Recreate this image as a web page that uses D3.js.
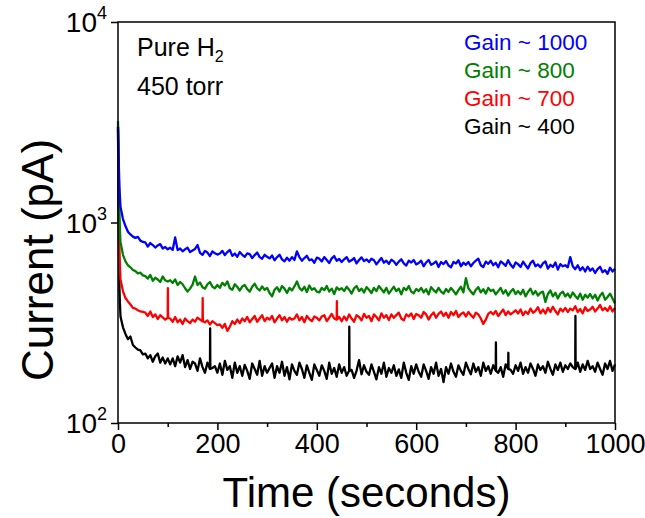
<!DOCTYPE html>
<html>
<head>
<meta charset="utf-8">
<script src="https://cdn.jsdelivr.net/npm/d3@7"></script>
<style>
  html, body { margin: 0; padding: 0; background: #fff; }
  svg { display: block; font-family: "Liberation Sans", Arial, sans-serif; }
</style>
</head>
<body>
<svg id="chart" width="645" height="518"></svg>
<script>
// ---- data ----
const earlyTimes = [0, 1, 2, 3, 4];
const times = earlyTimes.concat(d3.range(5, 1001, 5));

const gain1000 = [3000, 2300, 1800, 1500, 1320,
  1200,1040,960,900,872,850,838,848,812,800,
  795,758,790,772,750,768,780,742,755,735,
  748,730,842,728,742,718,735,748,712,725,
  738,772,705,690,722,708,680,718,702,692,
  700,722,688,712,730,682,700,675,712,690,
  675,702,695,665,688,708,672,660,690,675,
  662,685,648,672,690,655,640,668,645,672,
  650,718,672,645,665,682,648,655,630,668,
  660,640,672,650,628,662,680,645,658,635,
  655,672,638,648,665,625,650,670,642,655,
  635,660,648,618,642,665,630,645,622,652,
  640,615,638,655,625,610,645,632,650,618,
  628,645,605,632,650,615,625,640,600,635,
  620,642,610,598,635,625,648,605,630,615,
  635,605,628,645,660,612,600,638,622,645,
  612,630,598,640,625,608,648,615,595,632,
  620,600,638,612,590,628,645,605,618,598,
  625,640,588,615,600,632,582,620,605,612,
  598,672,605,585,612,578,598,570,602,575,
  590,560,585,602,565,578,555,595,570,588];

const gain800 = [3200, 2200, 1500, 1100, 900,
  800,690,640,612,598,580,572,558,562,545,
  540,525,548,512,530,520,505,538,515,508,
  515,500,520,488,505,492,470,452,468,490,
  538,488,502,475,468,492,505,478,470,488,
  472,500,485,508,470,462,492,478,458,480,
  488,465,452,478,495,470,458,480,462,472,
  445,428,462,475,452,482,468,445,472,458,
  480,508,472,458,478,450,485,462,470,452,
  448,472,460,482,452,468,440,475,462,470,
  455,478,462,442,470,482,455,468,448,476,
  462,445,472,455,482,465,448,472,442,460,
  478,455,468,438,472,460,482,452,444,466,
  455,472,448,465,438,476,460,448,472,452,
  442,466,450,472,455,438,460,478,448,528,
  470,452,438,462,476,448,465,442,472,455,
  462,438,455,472,442,460,432,452,466,440,
  455,438,462,428,450,468,438,455,432,446,
  452,402,440,458,428,446,418,442,452,428,
  442,422,448,430,416,442,412,436,422,440,
  418,436,408,432,446,412,425,442,418,395];

const gain700 = [2900, 1700, 1000, 720, 590,
  520,455,420,404,390,375,372,365,360,358,
  355,342,360,338,348,330,345,336,328,335,
  332,320,338,318,328,312,332,322,315,328,
  320,335,328,322,318,325,310,322,315,308,
  310,298,312,288,302,322,312,328,315,332,
  322,338,318,330,342,320,332,345,322,335,
  328,342,318,332,345,325,338,320,335,328,
  332,348,325,338,318,342,330,322,340,335,
  325,340,345,322,335,350,332,328,338,322,
  340,325,348,332,320,345,338,325,350,335,
  342,322,348,338,325,352,335,345,326,348,
  335,345,355,332,325,348,340,352,330,350,
  345,335,358,348,328,345,356,335,350,360,
  342,355,335,358,345,362,338,350,356,340,
  358,345,335,355,348,332,312,328,350,358,
  348,362,342,355,368,345,360,348,356,365,
  352,368,345,360,350,372,355,362,378,352,
  368,352,375,358,380,362,348,372,360,375,
  358,372,365,382,358,370,352,378,362,368,
  380,360,372,388,365,375,362,382,360,375];

const gain400 = [3000, 1200, 650, 460, 390,
  340,300,278,262,270,245,238,232,230,220,
  222,210,218,202,215,222,200,212,198,210,
  196,210,192,215,200,218,190,206,186,202,
  198,182,210,190,178,200,186,188,192,178,
  198,174,204,184,192,168,200,178,192,172,
  195,182,166,198,186,174,204,172,192,178,
  188,198,168,192,178,202,172,190,165,196,
  182,174,200,186,168,194,178,164,196,184,
  172,194,182,166,200,176,188,170,196,178,
  190,172,182,184,168,182,206,175,194,180,
  174,196,180,165,190,176,200,170,188,178,
  194,172,185,168,200,178,164,192,176,196,
  180,170,196,182,166,190,176,200,172,186,
  160,190,176,198,180,170,194,182,174,200,
  186,175,198,180,190,172,200,182,192,176,
  194,182,178,190,170,196,186,184,176,194,
  182,200,176,190,178,198,186,172,196,184,
  192,178,202,186,174,196,184,200,180,194,
  186,198,190,186,200,180,196,184,204,186,
  192,180,200,186,174,198,186,204,182,196];

// sharp single-sample spikes: [time, peak value]
const spikes1000 = [];
const spikes800 = [];
const spikes700 = [[100, 470], [170, 420], [440, 405]];
const spikes400 = [[185, 296], [465, 302], [760, 252], [785, 224], [920, 342]];

const seriesNames = ["Gain ~ 1000", "Gain ~ 800", "Gain ~ 700", "Gain ~ 400"];
const seriesColors = ["#0000ff", "#008000", "#ff0000", "#000000"];
const seriesValues = [gain1000, gain800, gain700, gain400];
const seriesSpikes = [spikes1000, spikes800, spikes700, spikes400];

const xTicks = [0, 200, 400, 600, 800, 1000];
const xMinorTicks = [100, 300, 500, 700, 900];
const yTicks = [100, 1000, 10000];
const yTickExp = ["2", "3", "4"];
const noteLines = ["Pure H", "450 torr"];

// ---- layout ----
const svg = d3.select("#chart");
const L = 118, R = 615, T = 22, B = 423;

const x = d3.scaleLinear().domain([0, 1000]).range([L, R]);
const y = d3.scaleLog().domain([100, 10000]).range([B, T]);

// lines
const line = d3.line().x(d => x(d[0])).y(d => y(d[1]));
const plot = svg.append("g");
[3, 2, 1, 0].forEach(i => {
  const spikeMap = new Map(seriesSpikes[i]);
  const pts = [];
  times.forEach((t, k) => {
    const v = seriesValues[i][k];
    pts.push([t, v]);
    if (spikeMap.has(t)) {
      pts.push([t + 0.4, spikeMap.get(t)]);
      pts.push([t + 0.8, v]);
    }
  });
  plot.append("path")
    .attr("d", line(pts))
    .attr("fill", "none")
    .attr("stroke", seriesColors[i])
    .attr("stroke-width", 2.3)
    .attr("stroke-linejoin", "round");
});

// frame
svg.append("rect").attr("x", L).attr("y", T).attr("width", R - L).attr("height", B - T)
  .attr("fill", "none").attr("stroke", "#000").attr("stroke-width", 1.5);

// x axis
const xAxis = d3.axisBottom(x).tickValues(xTicks).tickSize(7).tickSizeOuter(0).tickPadding(4)
  .tickFormat(d3.format("d"));
const gx = svg.append("g").attr("transform", `translate(0,${B})`).call(xAxis);
gx.select(".domain").remove();
gx.selectAll(".tick line").attr("stroke-width", 1.5);
gx.selectAll(".tick text").attr("font-size", 27).attr("font-family", "Liberation Sans, Arial, sans-serif").attr("fill", "#000");
const gxm = svg.append("g").attr("transform", `translate(0,${B})`)
  .call(d3.axisBottom(x).tickValues(xMinorTicks).tickSize(4).tickSizeOuter(0).tickFormat(""));
gxm.select(".domain").remove();
gxm.selectAll(".tick line").attr("stroke-width", 1.5);

// y axis
const yAxis = d3.axisLeft(y).tickValues(yTicks).tickSize(7).tickSizeOuter(0).tickFormat("");
const gy = svg.append("g").attr("transform", `translate(${L},0)`).call(yAxis);
gy.select(".domain").remove();
gy.selectAll(".tick line").attr("stroke-width", 1.5);
yTicks.forEach((v, i) => {
  const t = svg.append("text")
    .attr("x", L - 11).attr("y", y(v) + 10)
    .attr("text-anchor", "end")
    .attr("font-size", 28).attr("fill", "#000");
  t.append("tspan").text("10");
  t.append("tspan").attr("dy", -13).attr("font-size", 18).text(yTickExp[i]);
});

// axis titles
svg.append("text").attr("x", (L + R) / 2).attr("y", 507)
  .attr("text-anchor", "middle").attr("font-size", 42).attr("fill", "#000")
  .text("Time (seconds)");
svg.append("text")
  .attr("transform", `translate(53,260) rotate(-90)`)
  .attr("text-anchor", "middle").attr("font-size", 44).attr("fill", "#000")
  .text("Current (pA)");

// annotation
const n1 = svg.append("text").attr("x", 137).attr("y", 56).attr("font-size", 25).attr("fill", "#000");
n1.append("tspan").text(noteLines[0]);
n1.append("tspan").attr("dy", 6).attr("font-size", 16).text("2");
svg.append("text").attr("x", 137).attr("y", 95).attr("font-size", 25).attr("fill", "#000").text(noteLines[1]);

// legend
seriesNames.forEach((name, i) => {
  svg.append("text").attr("x", 464).attr("y", 50 + i * 28)
    .attr("font-size", 22.5).attr("fill", seriesColors[i]).text(name);
});
</script>
</body>
</html>
